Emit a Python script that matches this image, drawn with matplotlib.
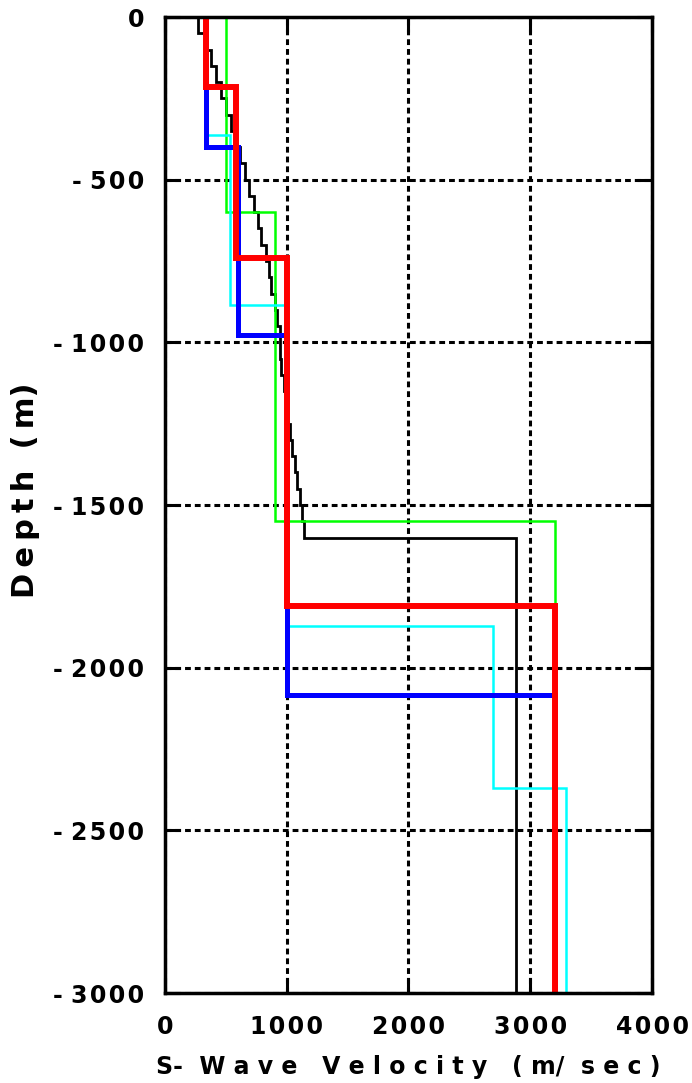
import numpy as np
import matplotlib
matplotlib.use('Agg')
import matplotlib.pyplot as plt

# layer tops (m) and S-wave velocities (m/s) for each profile
black_top = [0, 50, 100, 150, 200, 250, 300, 350, 400, 450, 500, 550, 600, 650, 700,
             750, 800, 850, 900, 950, 1000, 1050, 1100, 1150, 1200, 1250, 1300, 1350,
             1400, 1450, 1500, 1550, 1600]
black_vs = [270, 330, 374, 420, 462, 503, 544, 580, 620, 661, 694, 735, 763, 790, 826,
            855, 872, 900, 919, 941, 945, 955, 975, 990, 1005, 1023, 1045, 1064,
            1086, 1105, 1127, 1140, 2880]

green_top = [0, 600, 1550]
green_vs = [500, 900, 3200]

cyan_top = [0, 363, 885, 1871, 2371]
cyan_vs = [340, 538, 1000, 2690, 3290]

blue_top = [0, 216, 400, 977, 2085]
blue_vs = [338, 338, 600, 1000, 3200]

red_top = [0, 216, 742, 1810]
red_vs = [338, 585, 1000, 3200]

max_depth = 3000
yticks = [0, -500, -1000, -1500, -2000, -2500, -3000]
xticks = [0, 1000, 2000, 3000, 4000]

H = '\u200a'  # hair space
T = '\u2009'  # thin space


def spaced(n):
    return H.join(str(n))


ytick_labels = ['0'] + ['- ' + spaced(-v) for v in yticks[1:]]
xtick_labels = [spaced(v) for v in xticks]


def profile(tops, vs):
    bot = tops[1:] + [max_depth]
    x = np.repeat(vs, 2)
    y = -np.column_stack([tops, bot]).ravel()
    return x, y


plt.rcParams['font.family'] = ['DejaVu Sans']

fig = plt.figure(figsize=(6.92, 10.83), dpi=100)
ax = fig.add_axes([0.2384, 0.0831, 0.7038, 0.9012])

styles = [
    (black_top, black_vs, 'black', 2.0),
    (green_top, green_vs, '#00ff00', 1.8),
    (cyan_top, cyan_vs, 'cyan', 1.8),
    (blue_top, blue_vs, 'blue', 3.6),
    (red_top, red_vs, 'red', 4.3),
]
for tops, vs, c, lw in styles:
    x, y = profile(tops, vs)
    ax.plot(x, y, color=c, lw=lw, solid_joinstyle='miter')

ax.set_xlim(0, 4000)
ax.set_ylim(-3000, 0)
ax.set_xticks(xticks)
ax.set_xticklabels(xtick_labels)
ax.set_yticks(yticks)
ax.set_yticklabels(ytick_labels)
ax.grid(True, color='black', linestyle=(0, (1.9, 1.3)), linewidth=2.2)
ax.tick_params(direction='in', length=11, width=2.2, top=True, right=True,
               labelsize=17)
ax.tick_params(axis='y', pad=15)
ax.tick_params(axis='x', pad=16)
for lab in ax.get_xticklabels() + ax.get_yticklabels():
    lab.set_fontweight('bold')
for s in ax.spines.values():
    s.set_linewidth(2.5)

ax.set_xlabel('S-  W a v e   V e l o c i t y   ( m/  s e c )', fontsize=17,
              fontweight='bold', labelpad=11)
fig.text(25 / 692, 1 - 490 / 1083, T.join('Depth') + '  (' + T + 'm)', rotation=90,
         ha='center', va='center', fontsize=22, fontweight='bold')

fig.savefig('out.png', dpi=100)
